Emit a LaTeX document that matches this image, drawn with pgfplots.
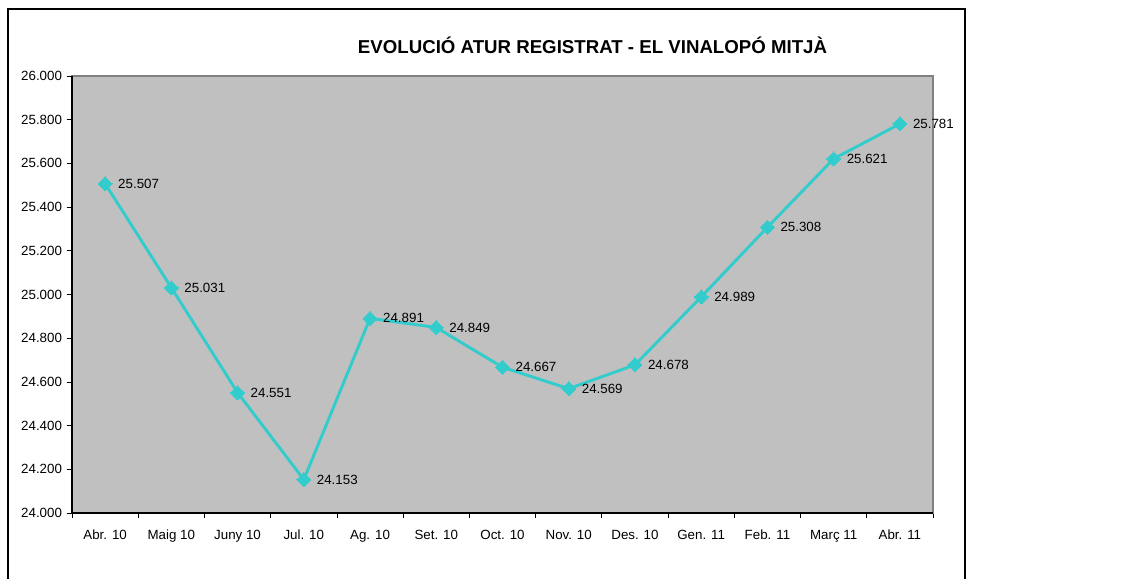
\documentclass[border=0pt]{standalone}
\usepackage{pgfplots}
\pgfplotsset{compat=1.18}
\usepackage{fontspec}
\setmainfont{Liberation Sans}
\definecolor{turq}{HTML}{33CCCC}
\definecolor{plotgray}{HTML}{C0C0C0}
\definecolor{bordgray}{HTML}{808080}
\begin{document}
\begin{tikzpicture}
\path[fill=white] (0,0) rectangle (853.5pt,434.25pt);
\draw[black, line width=0.9pt] (6pt,0pt) -- (6pt,427.5pt) -- (723.75pt,427.5pt) -- (723.75pt,0pt);
\node[font=\fontsize{14}{16}\selectfont\bfseries] at (444.4pt,400.5pt) {EVOLUCIÓ ATUR REGISTRAT - EL VINALOPÓ MITJÀ};
\begin{axis}[
  at={(54pt,49.5pt)}, anchor=south west,
  scale only axis, width=645.75pt, height=327.75pt,
  xmin=-0.5, xmax=12.5, ymin=24000, ymax=26000,
  ytick={24000,24200,...,26000},
  scaled y ticks=false,
  xtick={0,...,12},
  xticklabels={Abr. 10,Maig 10,Juny 10,Jul. 10,Ag. 10,Set. 10,Oct. 10,Nov. 10,Des. 10,Gen. 11,Feb. 11,Març 11,Abr. 11},
  minor xtick={-0.5,0.5,...,12.5},
  major x tick style={draw=none},
  xtick pos=left, ytick pos=left,
  tick align=outside,
  major tick length=4pt, minor tick length=4pt,
  tick style={black, line width=0.6pt},
  axis line style={draw=bordgray, line width=0.8pt},
  axis background/.style={fill=plotgray},
  /pgf/number format/.cd, fixed, fixed zerofill, precision=0, 1000 sep={.}, assume math mode=true,
  /pgfplots/.cd,
  ticklabel style={font=\fontsize{10}{12}\selectfont},
  yticklabel style={xshift=0pt},
  xticklabel style={anchor=base, yshift=-16pt},
  clip=false,
  nodes near coords,
  every node near coord/.append style={anchor=west, xshift=6.5pt, font=\fontsize{10}{12}\selectfont, text=black},
]
\addplot[color=turq, line width=2.2pt, mark=square*, mark size=3.7pt, mark options={rotate=45, fill=turq, draw=turq, line width=0pt}] coordinates {
(0,25507) (1,25031) (2,24551) (3,24153) (4,24891) (5,24849) (6,24667) (7,24569) (8,24678) (9,24989) (10,25308) (11,25621) (12,25781)
};
\draw[black, line width=0.8pt] (rel axis cs:0,1) -- (rel axis cs:0,0) -- (rel axis cs:1,0);
\end{axis}
\end{tikzpicture}
\end{document}
